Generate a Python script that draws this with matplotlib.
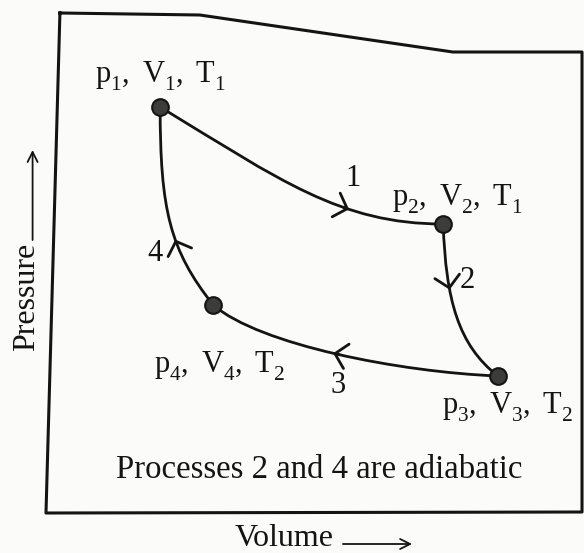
import numpy as np
import matplotlib
matplotlib.use('Agg')
import matplotlib.pyplot as plt
from matplotlib import _mathtext
from matplotlib.path import Path
from matplotlib.patches import PathPatch

plt.rcParams['font.family'] = ['Liberation Serif', 'DejaVu Sans']
plt.rcParams['mathtext.fontset'] = 'custom'
plt.rcParams['mathtext.rm'] = 'Liberation Serif'
# drop the subscripts a little lower, like the printed book style
_mathtext.FontConstantsBase.sub1 = 0.55

# cycle states (volume, pressure) in arbitrary units
V = [2.13, 7.41, 8.43, 3.12]
p = [8.12, 5.78, 2.74, 4.16]
state_labels = [r'$\mathregular{p_1,\:V_1,\:T_1}$', r'$\mathregular{p_2,\:V_2,\:T_1}$',
                r'$\mathregular{p_3,\:V_3,\:T_2}$', r'$\mathregular{p_4,\:V_4,\:T_2}$']

# bezier handles of each process i -> i+1
c1_V = [4.37, 7.46, 6.60, 2.31]
c1_p = [6.66, 4.26, 2.82, 5.26]
c2_V = [5.49, 7.69, 3.99, 2.13]
c2_p = [5.78, 3.36, 3.36, 6.06]
process_names = ['1', '2', '3', '4']

# outline of the box (top edge is bent in the print)
frame_V = [0.26, 2.87, 7.59, 10.0, 10.0, 0.0, 0.26]
frame_p = [10.0, 9.96, 9.22, 9.22, 0.02, 0.0, 10.0]

ink = '#141414'

fig = plt.figure(figsize=(5.84, 5.53), dpi=100)
fig.patch.set_facecolor('#fbfbf9')
ax = fig.add_axes([0, 0, 1, 1])
ax.set_xlim(-0.858, 10.037)
ax.set_ylim(-0.8, 10.26)
ax.axis('off')

ax.plot(frame_V, frame_p, color=ink, lw=2.2, solid_joinstyle='round')


def bezier(P0, C1, C2, P3, t):
    return ((1 - t)**3 * P0 + 3 * (1 - t)**2 * t * C1
            + 3 * (1 - t) * t**2 * C2 + t**3 * P3)


arrow_t = [0.66, 0.33, 0.51, 0.41]
num_off = [(3, 22), (13, 6.5), (3.6, -23), (-14.4, -10)]

for i in range(4):
    j = (i + 1) % 4
    P0 = np.array([V[i], p[i]])
    C1 = np.array([c1_V[i], c1_p[i]])
    C2 = np.array([c2_V[i], c2_p[i]])
    P3 = np.array([V[j], p[j]])
    path = Path([P0, C1, C2, P3], [Path.MOVETO, Path.CURVE4, Path.CURVE4, Path.CURVE4])
    ax.add_patch(PathPatch(path, fc='none', ec=ink, lw=2.0, capstyle='round'))

    t = arrow_t[i]
    tip = bezier(P0, C1, C2, P3, t)
    back = bezier(P0, C1, C2, P3, t - 0.02)
    ax.annotate('', xy=tip, xytext=back,
                arrowprops=dict(arrowstyle='->,head_length=0.42,head_width=0.45',
                                color=ink, lw=2.0, mutation_scale=20,
                                shrinkA=0, shrinkB=0))
    ax.annotate(process_names[i], xy=tip, xytext=num_off[i], textcoords='offset points',
                ha='center', va='center', fontsize=22, color=ink)

ax.plot(V, p, 'o', ms=12, mfc='#3c3c3c', mec=ink, mew=1.5, zorder=5)

label_off = [(-47, 17.5), (-37, 13), (-40, -27), (-43, -49)]
for i in range(4):
    ax.annotate(state_labels[i], xy=(V[i], p[i]), xytext=label_off[i],
                textcoords='offset points', ha='left', va='baseline',
                fontsize=22, color=ink)

ax.text(5.09, 0.86, 'Processes 2 and 4 are adiabatic', ha='center', va='center',
        fontsize=23.6, color=ink)

# axis names with their direction arrows
ax.text(4.44, -0.5, 'Volume', ha='center', va='center', fontsize=23, color=ink)
ax.annotate('', xy=(6.83, -0.62), xytext=(5.54, -0.62),
            arrowprops=dict(arrowstyle='->,head_length=0.6,head_width=0.3',
                            color=ink, lw=1.3, mutation_scale=12, shrinkA=0, shrinkB=0))
ax.text(-0.354, 4.32, 'Pressure', ha='center', va='center', rotation=90,
        fontsize=23, color=ink)
ax.annotate('', xy=(-0.25, 7.26), xytext=(-0.25, 5.46),
            arrowprops=dict(arrowstyle='->,head_length=0.6,head_width=0.3',
                            color=ink, lw=1.3, mutation_scale=12, shrinkA=0, shrinkB=0))

fig.savefig('out.png', dpi=100, facecolor=fig.get_facecolor())
